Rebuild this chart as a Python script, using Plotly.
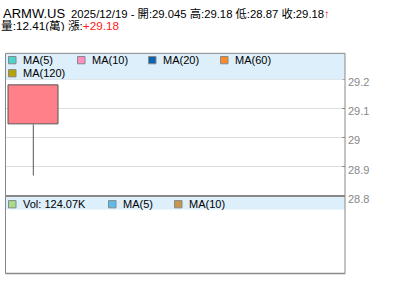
import plotly.graph_objects as go

W, H = 400, 301

# ---- data ----
symbol = "ARMW.US"
date = "2025/12/19"
dates = [date]
open_ = [29.045]
high = [29.18]
low = [28.87]
close = [29.18]
volume_wan = 12.41
change = "+29.18"
vol_label = "Vol: 124.07K"
y_ticks = [28.8, 28.9, 29.0, 29.1, 29.2]
y_tick_text = ["28.8", "28.9", "29", "29.1", "29.2"]
ma_labels = ["MA(5)", "MA(10)", "MA(20)", "MA(60)", "MA(120)"]
ma_colors = ["#4fd3cf", "#ff8fbf", "#0a63b0", "#ff8a2a", "#b8a400"]
vol_labels = [vol_label, "MA(5)", "MA(10)"]
vol_colors = ["#a6dc8c", "#5bbcec", "#c8964a"]

def px(x):
    return x / W

def py(y):
    return 1 - y / H

FONT = "Liberation Sans, Arial, Noto Sans CJK TC, sans-serif"
GRAY = "#888888"
BAND = "#ddeffa"

x_left, x_right = 5.5, 345
main_top, main_bot = 55, 202
vol_top, vol_bot = 202, 282

xs = list(range(len(dates)))

fig = go.Figure()

# candle body
fig.add_trace(go.Bar(
    x=xs, y=[c - o for o, c in zip(open_, close)], base=open_,
    width=0.91, marker=dict(color="#ff8088", line=dict(color="#555555", width=1)),
    hoverinfo="skip", showlegend=False, xaxis="x", yaxis="y"))
# wicks
for i in xs:
    lo_body = min(open_[i], close[i]); hi_body = max(open_[i], close[i])
    fig.add_trace(go.Scatter(x=[i, i], y=[low[i], lo_body], mode="lines",
                             line=dict(color="#555555", width=1), showlegend=False,
                             hoverinfo="skip", xaxis="x", yaxis="y"))
    if high[i] > hi_body:
        fig.add_trace(go.Scatter(x=[i, i], y=[hi_body, high[i]], mode="lines",
                                 line=dict(color="#555555", width=1), showlegend=False,
                                 hoverinfo="skip", xaxis="x", yaxis="y"))

slot = 55.6
x_range = [-0.5, -0.5 + (x_right - x_left) / slot]
ppu = 301.0  # pixels per price unit
y_range = [28.8, 28.8 + (main_bot - main_top) / ppu]

shapes = []
annotations = []

# legend bands
shapes.append(dict(type="rect", xref="paper", yref="paper", x0=px(x_left), x1=px(x_right),
                   y0=py(82), y1=py(main_top), fillcolor=BAND, line=dict(width=0), layer="above"))
shapes.append(dict(type="rect", xref="paper", yref="paper", x0=px(x_left), x1=px(x_right),
                   y0=py(216), y1=py(vol_top), fillcolor=BAND, line=dict(width=0), layer="above"))

# borders
def line(x0, y0, x1, y1, w=1):
    shapes.append(dict(type="line", xref="paper", yref="paper", x0=px(x0), y0=py(y0),
                       x1=px(x1), y1=py(y1), line=dict(color=GRAY, width=w), layer="above"))

line(x_left, main_top, x_right, main_top)
line(x_left, main_top, x_left, vol_bot)
line(x_right, main_top, x_right, vol_bot)
line(x_left, vol_bot, x_right, vol_bot, 1.5)
line(x_left, vol_top, x_right, vol_top, 2)

# legend items
def legend_item(x, y, color, text):
    shapes.append(dict(type="rect", xref="paper", yref="paper", x0=px(x), x1=px(x + 7.5),
                       y0=py(y + 3.75), y1=py(y - 3.75), fillcolor=color,
                       line=dict(color=GRAY, width=1), layer="above"))
    annotations.append(dict(x=px(x + 12.5), y=py(y), xref="paper", yref="paper", text=text,
                            showarrow=False, xanchor="left", yanchor="middle",
                            font=dict(family=FONT, size=11, color="#000000")))

ma_pos = [(8.5, 62), (77.5, 62), (148.5, 62), (220.5, 62), (8.5, 75.5)]
for (x, y), c, t in zip(ma_pos, ma_colors, ma_labels):
    legend_item(x, y, c, t)

vol_pos = [(8.5, 210.5), (108.5, 210.5), (174.5, 210.5)]
for (x, y), c, t in zip(vol_pos, vol_colors, vol_labels):
    legend_item(x, y, c, t)

# header
annotations.append(dict(x=px(1), y=py(13), xref="paper", yref="paper", text=symbol,
                        showarrow=False, xanchor="left", yanchor="middle", height=12,
                        font=dict(family=FONT, size=13, color="#000000")))
up = close[0] >= open_[0]
hdr = (f"{date} - 開:{open_[0]:g} 高:{high[0]:g} 低:{low[0]:g} 收:{close[0]:g}"
       + ("<span style='color:#ff1a1a'><b>↑</b></span>" if up else ""))
annotations.append(dict(x=px(69), y=py(14), xref="paper", yref="paper", text=hdr,
                        showarrow=False, xanchor="left", yanchor="middle", height=11,
                        font=dict(family=FONT, size=11.3, color="#000000")))
annotations.append(dict(x=px(-1), y=py(26.5), xref="paper", yref="paper",
                        text=f"量:{volume_wan}(萬) 漲:<span style='color:#ff2020'>{change}</span>",
                        showarrow=False, xanchor="left", yanchor="middle", height=11,
                        font=dict(family=FONT, size=11.7, color="#000000")))

fig.update_layout(
    width=W, height=H, margin=dict(l=0, r=0, t=0, b=0),
    paper_bgcolor="white", plot_bgcolor="white",
    showlegend=False, bargap=0,
    xaxis=dict(domain=[px(x_left), px(x_right)], range=x_range, showgrid=False,
               zeroline=False, showticklabels=False, ticks="", fixedrange=True),
    yaxis=dict(domain=[py(main_bot), py(main_top)], range=y_range, side="right",
               tickvals=y_ticks, ticktext=y_tick_text, showgrid=True, gridcolor="#dddddd",
               gridwidth=1, zeroline=False, ticks="inside", ticklen=3, tickcolor=GRAY,
               tickfont=dict(family=FONT, size=11, color=GRAY), showline=False,
               ticklabelshift=3, ticklabelstandoff=2),
    xaxis2=dict(domain=[px(x_left), px(x_right)], range=x_range, anchor="y2", visible=False),
    yaxis2=dict(domain=[py(vol_bot), py(vol_top)], range=[0, 1], anchor="x2", visible=False),
    shapes=shapes, annotations=annotations,
)
fig.add_trace(go.Scatter(x=[], y=[], xaxis="x2", yaxis="y2", showlegend=False))

fig.write_html("out.html")
